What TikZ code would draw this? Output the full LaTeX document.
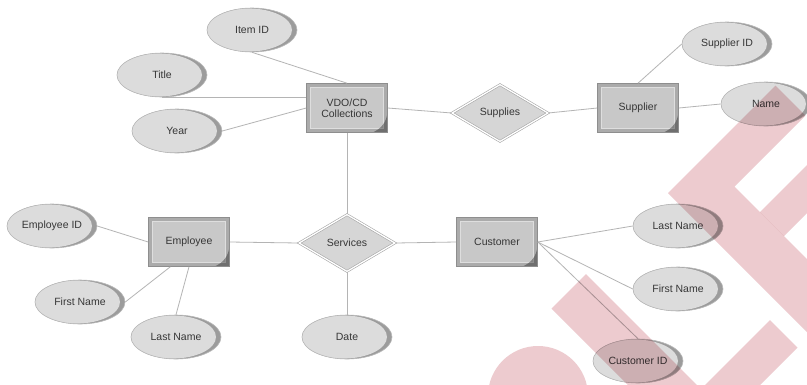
\documentclass[tikz,border=0pt]{standalone}
\usepackage{fontspec}
\setmainfont{Liberation Sans}
\usetikzlibrary{shapes.geometric,calc}
\definecolor{txt}{HTML}{363636}
\definecolor{edge}{HTML}{B4B4B4}
\definecolor{ellfill}{HTML}{DCDCDC}
\definecolor{ellshade}{HTML}{9C9C9C}
\definecolor{ellline}{HTML}{B8B8B8}
\definecolor{boxouter}{HTML}{8E8E8E}
\definecolor{boxband}{HTML}{ABABAB}
\definecolor{boxfill}{HTML}{C8C8C8}
\definecolor{boxinner}{HTML}{DEDEDE}
\definecolor{diafill}{HTML}{D6D6D6}
\definecolor{dialine}{HTML}{A6A6A6}
\definecolor{wm}{RGB}{237,203,207}
\tikzset{
  lbl/.style={text=txt, font=\fontsize{10.5}{12}\selectfont},
  attr/.style={lbl, ellipse, draw=ellline, line width=0.6pt, fill=ellshade,
    minimum width=90pt, minimum height=44pt, inner sep=0pt,
    path picture={\fill[ellfill] ([xshift=-4pt]path picture bounding box.center)
      ellipse [x radius=44pt, y radius=21.6pt];}},
  entity/.style={lbl, rectangle, draw=boxouter, line width=0.6pt, fill=boxband,
    minimum width=81pt, minimum height=49pt, inner sep=0pt, align=center,
    path picture={
      \filldraw[draw=boxinner, line width=0.7pt, fill=boxfill]
        ([shift={(4pt,4pt)}]path picture bounding box.south west) rectangle
        ([shift={(-4pt,-4pt)}]path picture bounding box.north east);
      \fill[black, opacity=0.35] (path picture bounding box.south east) --
        ([xshift=-15pt]path picture bounding box.south east) to[bend right=30]
        ([yshift=20pt]path picture bounding box.south east) -- cycle;}},
  relation/.style={lbl, diamond, draw=dialine, line width=0.6pt, double=white,
    double distance=1.3pt, fill=diafill, inner sep=0pt,
    minimum width=96pt, minimum height=57pt},
  conn/.style={draw=edge, line width=0.8pt}
}
\begin{document}
\begin{tikzpicture}[x=1pt,y=-1pt]
\useasboundingbox (0,0) rectangle (807,384);
\fill[white] (0,0) rectangle (807,384);
% entities
\node[entity] (vdo) at (347,108) {VDO/CD\\[-1pt]Collections};
\node[entity] (supplier) at (638,108) {Supplier};
\node[entity] (employee) at (189,242) {Employee};
\node[entity] (customer) at (497,242) {Customer};
% relationships
\node[relation] (supplies) at (500,113) {Supplies};
\node[relation] (services) at (347,243) {Services};
% attributes
\node[attr] (itemid) at (252,30) {Item ID};
\node[attr] (title) at (162,75) {Title};
\node[attr] (year) at (177,131) {Year};
\node[attr] (supplierid) at (727,44) {Supplier ID};
\node[attr] (name) at (766,104) {Name};
\node[attr] (empid) at (52,226) {Employee ID};
\node[attr] (fname1) at (80,302) {First Name};
\node[attr] (lname1) at (176,337) {Last Name};
\node[attr] (date) at (347,337) {Date};
\node[attr] (lname2) at (678,226) {Last Name};
\node[attr] (fname2) at (678,289) {First Name};
\node[attr] (custid) at (638,361) {Customer ID};
% connectors
\draw[conn] (itemid.south) -- (vdo.north);
\draw[conn] (title.south) -- (title.south -| vdo.west);
\draw[conn] (year.east) -- (vdo.west);
\draw[conn] (vdo.east) -- (supplies.west);
\draw[conn] (supplies.east) -- (supplier.west);
\draw[conn] (supplier.east) -- (name.west);
\draw[conn] (supplier.north) -- (supplierid.west);
\draw[conn] (vdo.south) -- (services.north);
\draw[conn] (empid.east) -- (employee.west);
\draw[conn] (fname1.east) -- (employee.233);
\draw[conn] (lname1.north) -- (employee.south);
\draw[conn] (employee.east) -- (services.west);
\draw[conn] (services.south) -- (date.north);
\draw[conn] (services.east) -- (customer.west);
\draw[conn] (customer.east) -- (lname2.west);
\draw[conn] (customer.east) -- (fname2.west);
\draw[conn] (customer.east) -- (custid.north);
% watermark
\begin{scope}[blend mode=multiply]
  \clip (0,0) rectangle (807,384);
  \fill[wm] (668,193) -- (775.5,85.5) -- (805.5,115.5) -- (734.5,186.5)
    -- (924,376) -- (887.5,412.5) -- cycle;
  \fill[wm] (760,212) -- (866,106) -- (890,130) -- (784,236) -- cycle;
  \fill[wm] (551.5,308.5) -- (586,274) -- (756,444) -- (721.5,478.5) -- cycle;
  \fill[wm] (770,320) -- (797.5,347.5) -- (672.5,472.5) -- (645,445) -- cycle;
  \fill[wm] (538,396) circle [radius=50pt];
\end{scope}
\end{tikzpicture}
\end{document}
